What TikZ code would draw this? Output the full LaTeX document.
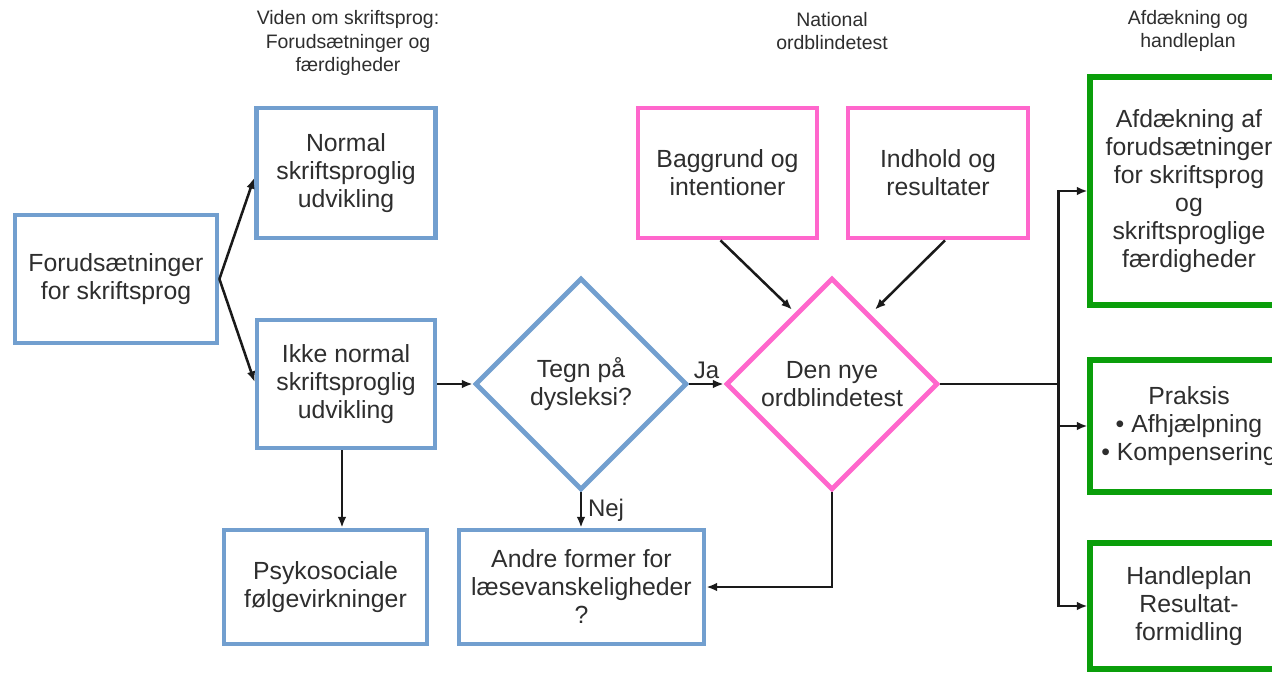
\documentclass[tikz,border=0pt]{standalone}
\usepackage{fontspec}
\setmainfont{Liberation Sans}
\usetikzlibrary{shapes.geometric,arrows.meta,calc}
\definecolor{myblue}{HTML}{729FCF}
\definecolor{mypink}{HTML}{FF66CC}
\definecolor{mygreen}{HTML}{0A9E0A}
\definecolor{txt}{HTML}{2E2E2E}
\definecolor{ink}{HTML}{1A1A1A}
\begin{document}
\begin{tikzpicture}[x=0.75pt,y=-0.75pt,
  boxtext/.style={align=center,text=txt,font=\fontsize{18.6pt}{21pt}\selectfont,inner sep=0pt},
  bbox/.style={boxtext,draw=myblue,line width=3.6pt},
  pbox/.style={boxtext,draw=mypink,line width=3.6pt},
  gbox/.style={boxtext,draw=mygreen,line width=3.8pt},
  bdia/.style={boxtext,diamond,draw=myblue,line width=3.6pt,aspect=1,minimum width={212*0.75pt},minimum height={212*0.75pt}},
  pdia/.style={boxtext,diamond,draw=mypink,line width=3.6pt,aspect=1,minimum width={212*0.75pt},minimum height={212*0.75pt}},
  hdr/.style={align=center,text=txt,font=\fontsize{14.6pt}{17.6pt}\selectfont,inner sep=0pt},
  conn/.style={draw=ink,line width=1.9pt},
  arr/.style={conn,-{Latex[length=8pt,width=6.5pt]}},
  lbl/.style={text=txt,font=\fontsize{18pt}{20pt}\selectfont}
]
\useasboundingbox (0,0) rectangle (1272,672);
\fill[white] (0,0) rectangle (1272,672);
\clip (0,0) rectangle (1272,672);

% headers
\node[hdr] (h1) at (348,43) {Viden om skriftsprog:\\Forudsætninger og\\færdigheder};
\node[hdr] (h2) at (832,31) {National\\ordblindetest};
\node[hdr] (h3) at (1188,31) {Afdækning og\\handleplan};

% blue boxes
\node[bbox,minimum width={202*0.75pt},minimum height={128*0.75pt}] (forud) at (116,279) {Forudsætninger\\for skriftsprog};
\node[bbox,minimum width={179*0.75pt},minimum height={130*0.75pt}] (normal) at (346,173) {Normal\\skriftsproglig\\udvikling};
\node[bbox,minimum width={178*0.75pt},minimum height={128*0.75pt}] (ikke) at (346,384) {Ikke normal\\skriftsproglig\\udvikling};
\node[bbox,minimum width={203*0.75pt},minimum height={114*0.75pt}] (psy) at (325.5,587) {Psykosociale\\følgevirkninger};
\node[bbox,minimum width={245*0.75pt},minimum height={114*0.75pt}] (andre) at (581.5,587) {Andre former for\\læsevanskeligheder\\?};
\node[bdia] (tegn) at (581,384) {Tegn på\\dysleksi?};

% pink
\node[pdia] (dennye) at (832,384) {Den nye\\ordblindetest};
\node[pbox,minimum width={179*0.75pt},minimum height={130*0.75pt}] (bag) at (727.5,173) {Baggrund og\\intentioner};
\node[pbox,minimum width={180*0.75pt},minimum height={130*0.75pt}] (indh) at (938,173) {Indhold og\\resultater};

% green
\node[gbox,minimum width={198*0.75pt},minimum height={228*0.75pt}] (afd) at (1189,191) {Afdækning af\\forudsætninger\\for skriftsprog\\og\\skriftsproglige\\færdigheder};
\node[gbox,minimum width={198*0.75pt},minimum height={132*0.75pt}] (praks) at (1189,426) {Praksis\\• Afhjælpning\\• Kompensering};
\node[gbox,minimum width={198*0.75pt},minimum height={126*0.75pt}] (handle) at (1189,606) {Handleplan\\Resultat-\\formidling};

% connectors
\draw[arr] (forud.east) -- ($(normal.west)+(0,5)$);
\draw[arr] (forud.east) -- ($(ikke.west)+(0,-2)$);
\draw[arr] (ikke.east) -- (tegn.west);
\coordinate (ps) at ($(ikke.south)+(-4,0)$);
\draw[arr] (ps) -- (ps |- psy.north);
\draw[arr] (tegn.south) -- (tegn.south |- andre.north) node[lbl,midway,right,xshift=1pt] {Nej};
\draw[arr] (tegn.east) -- (dennye.west) node[lbl,midway,above,yshift=0pt] {Ja};
\draw[arr] ($(bag.south)+(-7,0)$) -- ($(dennye.north)+(-40,34)$);
\draw[arr] ($(indh.south)+(7,0)$) -- ($(dennye.north)+(43,34)$);
\draw[arr] (dennye.south) |- (andre.east);
\coordinate (jn) at ($(dennye.east)+(118,0)$);
\draw[conn] (dennye.east) -- (jn);
\draw[arr] (jn) |- (afd.west);
\draw[arr] (jn) |- (praks.west);
\draw[arr] (jn) |- (handle.west);
\end{tikzpicture}
\end{document}
